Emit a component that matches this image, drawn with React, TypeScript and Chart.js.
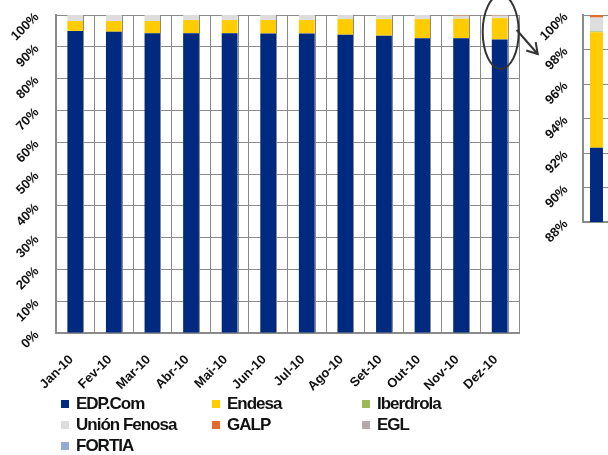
import React, { useEffect, useRef } from "react";
import { Chart, registerables } from "chart.js";

Chart.register(...registerables);

const categories = ["Jan-10", "Fev-10", "Mar-10", "Abr-10", "Mai-10", "Jun-10", "Jul-10", "Ago-10", "Set-10", "Out-10", "Nov-10", "Dez-10"];
const edpCom = [95.0, 94.7, 94.25, 94.25, 94.25, 94.2, 94.2, 93.8, 93.5, 92.7, 92.7, 92.3];
const endesa = [3.1, 3.4, 3.85, 4.15, 4.15, 4.2, 4.2, 4.9, 5.2, 6.0, 6.1, 6.7];
const iberdrola = [0, 0, 0, 0, 0, 0, 0, 0.05, 0.05, 0.05, 0.05, 0.05];
const unionFenosa = [1.9, 1.9, 1.9, 1.6, 1.6, 1.6, 1.6, 1.25, 1.25, 1.25, 0.95, 0.8];
const galp = [0, 0, 0, 0, 0, 0, 0, 0, 0, 0, 0.2, 0.15];
const egl = [0, 0, 0, 0, 0, 0, 0, 0, 0, 0, 0, 0];
const fortia = [0, 0, 0, 0, 0, 0, 0, 0, 0, 0, 0, 0];

const mainTicks = [0, 10, 20, 30, 40, 50, 60, 70, 80, 90, 100];
const insetTicks = [88, 90, 92, 94, 96, 98, 100];
const insetIndex = 11;

const seriesNames = ["EDP.Com", "Endesa", "Iberdrola", "Unión Fenosa", "GALP", "EGL", "FORTIA"];
const seriesColors = ["#002A80", "#FFCC00", "#9BBB59", "#DDDDDD", "#E46C2A", "#B3A9A9", "#95A9D2"];
const seriesValues = [edpCom, endesa, iberdrola, unionFenosa, galp, egl, fortia];

const FONT = "Arial, 'Liberation Sans', sans-serif";
const GRID = "#8a8a8a";

function buildDatasets(indexFilter?: number) {
  return seriesNames.map((name, i) => ({
    label: name,
    data: indexFilter === undefined ? seriesValues[i] : [seriesValues[i][indexFilter]],
    backgroundColor: seriesColors[i],
    borderWidth: 0,
    stack: "s",
  }));
}

const barEdgePlugin = {
  id: "barEdge",
  afterDatasetsDraw(chart: any) {
    const { ctx, chartArea } = chart;
    const meta = chart.getDatasetMeta(0);
    ctx.save();
    ctx.strokeStyle = GRID;
    ctx.lineWidth = 1;
    meta.data.forEach((el: any) => {
      const x = Math.round(el.x + el.width / 2) + 0.5;
      ctx.beginPath();
      ctx.moveTo(x, chartArea.top);
      ctx.lineTo(x, chartArea.bottom);
      ctx.stroke();
    });
    ctx.restore();
  },
};

const annotationPlugin = {
  id: "annot",
  afterDraw(chart: any) {
    const { ctx, chartArea } = chart;
    const meta = chart.getDatasetMeta(0);
    const el: any = meta.data[insetIndex];
    if (!el) return;
    const cx = el.x + 1;
    const cy = chartArea.top + 17;
    ctx.save();
    ctx.strokeStyle = "#333333";
    ctx.lineWidth = 2;
    ctx.beginPath();
    ctx.ellipse(cx, cy, 18, 37, 0, 0, Math.PI * 2);
    ctx.stroke();
    const sx = cx + 16, sy = cy - 2;
    const tx = cx + 37, ty = cy + 22;
    ctx.beginPath();
    ctx.moveTo(sx, sy);
    ctx.lineTo(tx, ty);
    ctx.stroke();
    const ang = Math.atan2(ty - sy, tx - sx);
    const len = 12;
    ctx.beginPath();
    ctx.moveTo(tx + Math.cos(ang + Math.PI - 0.55) * len, ty + Math.sin(ang + Math.PI - 0.55) * len);
    ctx.lineTo(tx, ty);
    ctx.lineTo(tx + Math.cos(ang + Math.PI + 0.55) * len, ty + Math.sin(ang + Math.PI + 0.55) * len);
    ctx.stroke();
    ctx.restore();
  },
};

export default function App() {
  const mainRef = useRef<HTMLCanvasElement | null>(null);
  const insetRef = useRef<HTMLCanvasElement | null>(null);

  useEffect(() => {
    const yFont = { family: FONT, size: 13, weight: "bold" as const };
    const xFont = { family: FONT, size: 13, weight: "bold" as const };
    const noPad = (s: any) => { s.paddingTop = 0; s.paddingBottom = 0; s.paddingLeft = 0; s.paddingRight = 0; };
    const main = new Chart(mainRef.current as HTMLCanvasElement, {
      type: "bar",
      data: { labels: categories, datasets: buildDatasets() as any },
      options: {
        animation: false,
        responsive: false,
        devicePixelRatio: 1,
        layout: { padding: { top: 15, right: 89, left: 0, bottom: 0 } },
        plugins: { legend: { display: false }, tooltip: { enabled: false }, title: { display: false } },
        datasets: { bar: { categoryPercentage: 1, barPercentage: 0.41 } },
        scales: {
          x: {
            stacked: true,
            offset: true,
            grid: { display: true, color: GRID, lineWidth: 1, offset: true, drawTicks: false },
            border: { display: true, color: GRID, width: 2 },
            ticks: { font: xFont, color: "#111", minRotation: 45, maxRotation: 45, padding: 19, labelOffset: -4, autoSkip: false },
            afterFit: (s: any) => { s.height = 62; noPad(s); },
          },
          y: {
            stacked: true,
            min: 0,
            max: 100,
            afterBuildTicks: (s: any) => { s.ticks = mainTicks.map((v) => ({ value: v })); },
            grid: { color: GRID, lineWidth: 1, drawTicks: false },
            border: { display: true, color: GRID, width: 2 },
            ticks: { font: yFont, color: "#111", minRotation: 45, maxRotation: 45, padding: 19, callback: (v: any) => v + "%" },
            afterFit: (s: any) => { s.width = 56; noPad(s); },
          },
        },
      },
      plugins: [barEdgePlugin, annotationPlugin],
    });

    const inset = new Chart(insetRef.current as HTMLCanvasElement, {
      type: "bar",
      data: { labels: [categories[insetIndex]], datasets: buildDatasets(insetIndex) as any },
      options: {
        animation: false,
        responsive: false,
        devicePixelRatio: 1,
        layout: { padding: { top: 15, right: 0, left: 0, bottom: 0 } },
        plugins: { legend: { display: false }, tooltip: { enabled: false } },
        datasets: { bar: { categoryPercentage: 1, barPercentage: 0.48 } },
        scales: {
          x: {
            stacked: true,
            grid: { display: false },
            border: { display: true, color: GRID, width: 2 },
            ticks: { display: false },
            afterFit: (s: any) => { s.height = 33; noPad(s); },
          },
          y: {
            stacked: true,
            min: 88,
            max: 100,
            afterBuildTicks: (s: any) => { s.ticks = insetTicks.map((v) => ({ value: v })); },
            grid: { color: GRID, lineWidth: 1, drawTicks: false },
            border: { display: true, color: GRID, width: 2 },
            ticks: { font: yFont, color: "#111", minRotation: 45, maxRotation: 45, padding: 17, callback: (v: any) => v + "%" },
            afterFit: (s: any) => { s.width = 63; noPad(s); },
          },
        },
      },
    });

    return () => {
      main.destroy();
      inset.destroy();
    };
  }, []);

  const legendPos = [
    [61, 404], [212, 404], [362, 404],
    [61, 425], [212, 425], [362, 425],
    [61, 446],
  ];

  return (
    <div style={{ position: "fixed", left: 0, top: 0, width: 608, height: 455, overflow: "hidden", background: "#fff" }}>
      <canvas ref={mainRef} width={608} height={395} style={{ position: "absolute", left: 0, top: 0 }} />
      <canvas ref={insetRef} width={90} height={255} style={{ position: "absolute", left: 520, top: 0 }} />
      {seriesNames.map((name, i) => (
        <div
          key={name}
          style={{
            position: "absolute",
            left: legendPos[i][0],
            top: legendPos[i][1] - 11,
            height: 22,
            display: "flex",
            alignItems: "center",
            fontFamily: FONT,
            fontWeight: "bold",
            fontSize: 17,
            letterSpacing: "-1px",
            color: "#111",
            whiteSpace: "nowrap",
          }}
        >
          <span style={{ display: "inline-block", width: 8, height: 8, background: seriesColors[i], marginRight: 7 }} />
          {name}
        </div>
      ))}
    </div>
  );
}
